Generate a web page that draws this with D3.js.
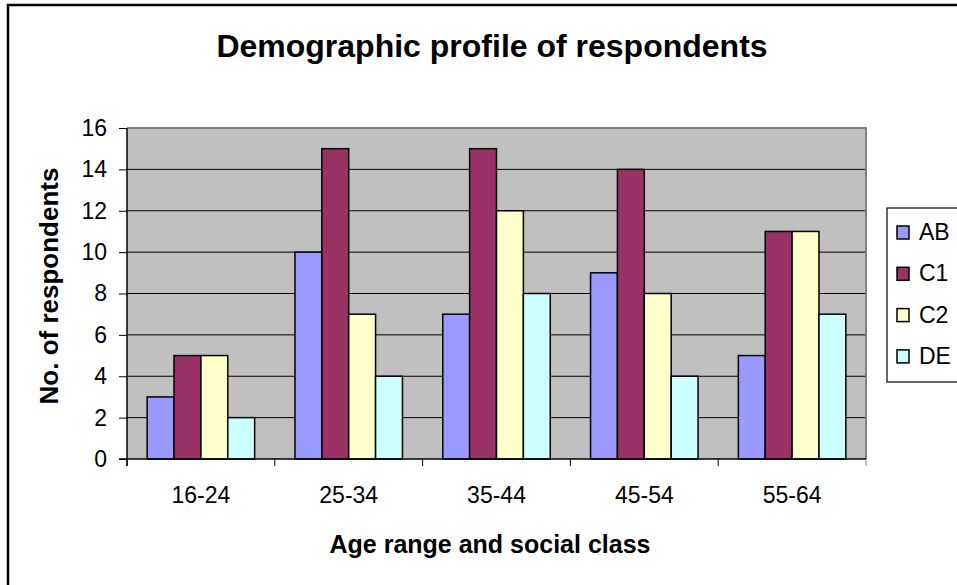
<!DOCTYPE html>
<html><head><meta charset="utf-8">
<script src="https://cdn.jsdelivr.net/npm/d3@7"></script>
<style>html,body{margin:0;padding:0;background:#fff;}svg{display:block;font-family:"Liberation Sans",Arial,sans-serif;}</style>
</head><body>
<script>
const categories = ["16-24","25-34","35-44","45-54","55-64"];
const seriesNames = ["AB","C1","C2","DE"];
const seriesColors = ["#9999FF","#993366","#FFFFCC","#CCFFFF"];
const AB = [3,10,7,9,5];
const C1 = [5,15,15,14,11];
const C2 = [5,7,12,8,11];
const DE = [2,4,8,4,7];
const yTicks = [0,2,4,6,8,10,12,14,16];
const seriesValues = [AB,C1,C2,DE];

const W=957,H=585;
const FF="Liberation Sans, Arial, sans-serif";
const svg=d3.select("body").append("svg").attr("width",W).attr("height",H);
svg.append("rect").attr("x",8).attr("y",5).attr("width",1000).attr("height",1000)
  .attr("fill","#fff").attr("stroke","#000").attr("stroke-width",2.5);

const L=127,T=128,R=866,B=459;
const x=d3.scaleBand().domain(categories).range([L,R]).paddingInner(0).paddingOuter(0);
const bw=x.bandwidth()/5.5;
const xs=d3.scaleBand().domain(seriesNames).range([0.75*bw,0.75*bw+4*bw]);
const y=d3.scaleLinear().domain([0,16]).range([B,T]);

svg.append("rect").attr("x",L).attr("y",T).attr("width",R-L).attr("height",B-T).attr("fill","#C0C0C0");
svg.append("g").selectAll("line").data(yTicks.filter(d=>d>0&&d<16)).join("line")
  .attr("x1",L).attr("x2",R).attr("y1",d=>y(d)).attr("y2",d=>y(d)).attr("stroke","#000").attr("stroke-width",1);
svg.append("path").attr("d",`M${L},${T}H${R}V${B}`).attr("fill","none").attr("stroke","#808080").attr("stroke-width",2);

const groups=svg.append("g").selectAll("g").data(categories).join("g").attr("transform",d=>`translate(${x(d)},0)`);
groups.selectAll("rect").data((c,i)=>seriesNames.map((s,j)=>({s,v:seriesValues[j][i],c:seriesColors[j]}))).join("rect")
  .attr("x",d=>xs(d.s)).attr("width",xs.bandwidth()).attr("y",d=>y(d.v)).attr("height",d=>B-y(d.v))
  .attr("fill",d=>d.c).attr("stroke","#000").attr("stroke-width",1.5);

const yAxis=d3.axisLeft(y).tickValues(yTicks).tickSize(8).tickPadding(12);
const gy=svg.append("g").attr("transform",`translate(${L},0)`).call(yAxis);
gy.attr("font-family",FF).attr("font-size",23);
gy.select(".domain").attr("stroke","#000").attr("stroke-width",1.5).attr("d",`M0,${T}V${B+7}`);
gy.selectAll(".tick line").attr("stroke","#000").attr("stroke-width",1);
gy.selectAll("text").attr("fill","#000");

const xAxis=d3.axisBottom(x).tickSize(0).tickPadding(28);
const gx=svg.append("g").attr("transform",`translate(0,${B})`).call(xAxis);
gx.attr("font-family",FF).attr("font-size",23);
gx.select(".domain").attr("stroke","#000").attr("stroke-width",1.5).attr("d",`M${L-8},0H${R}`);
gx.selectAll("text").attr("fill","#000");
svg.append("g").selectAll("line").data(d3.range(categories.length+1)).join("line")
  .attr("x1",i=>L+i*x.bandwidth()).attr("x2",i=>L+i*x.bandwidth()).attr("y1",B).attr("y2",B+7)
  .attr("stroke",(i)=>i===categories.length?"#808080":"#000").attr("stroke-width",1);

svg.append("text").attr("x",492).attr("y",57).attr("text-anchor","middle").attr("font-size",32).attr("font-weight","bold").text("Demographic profile of respondents");
svg.append("text").attr("x",490).attr("y",553).attr("text-anchor","middle").attr("font-size",25).attr("font-weight","bold").text("Age range and social class");
svg.append("text").attr("transform","translate(58,286) rotate(-90)").attr("text-anchor","middle").attr("font-size",26).attr("font-weight","bold").text("No. of respondents");

const lg=svg.append("g");
lg.append("rect").attr("x",887).attr("y",208).attr("width",100).attr("height",174).attr("fill","#fff").attr("stroke","#000").attr("stroke-width",1.2);
const li=lg.selectAll("g").data(seriesNames).join("g").attr("transform",(d,i)=>`translate(897,${232+i*41.3})`);
li.append("rect").attr("x",0).attr("y",-6).attr("width",12).attr("height",13).attr("fill",(d,i)=>seriesColors[i]).attr("stroke","#000").attr("stroke-width",1.5);
li.append("text").attr("x",22).attr("y",8).attr("font-size",23).text(d=>d);
</script>
</body></html>
